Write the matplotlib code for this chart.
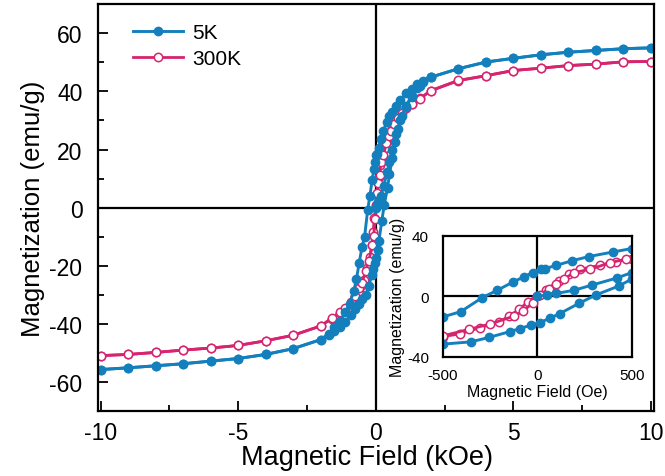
import matplotlib
matplotlib.use("Agg")
import matplotlib.pyplot as plt
import numpy as np

plt.rcParams['font.family'] = ['Liberation Sans', 'DejaVu Sans']
plt.rcParams['axes.unicode_minus'] = False

# 5 K loop, field in kOe, magnetization in emu/g
h5_virgin = [0, 0.05, 0.1, 0.194, 0.291, 0.421, 0.5, 0.6, 0.75, 0.9, 1.1, 1.3, 1.6, 2.0]
m5_virgin = [0, 1.0, 2.0, 4.1, 7.6, 12.2, 15.8, 20.0, 25.5, 30.0, 34.5, 38.0, 41.8, 44.9]

h5_down = [10, 9, 8, 7, 6, 5, 4, 3, 2, 1.7, 1.5, 1.3, 1.1, 0.9, 0.75, 0.6, 0.5,
           0.4, 0.273, 0.186, 0.101, 0.04, 0.017, -0.025, -0.068, -0.128, -0.212,
           -0.291, -0.405, -0.5, -0.6, -0.7, -0.8, -0.95, -1.1, -1.3, -1.5, -1.7,
           -2, -3, -4, -5, -6, -7, -8, -9, -10]
m5_down = [55.0, 54.7, 54.1, 53.5, 52.6, 51.4, 50.1, 47.8, 44.9, 43.6, 42.5, 41.0,
           39.3, 37.0, 35.0, 33.0, 31.7, 29.4, 26.4, 23.7, 20.6, 18.4, 18.0, 15.8,
           13.2, 9.6, 4.1, -0.7, -10.0, -13.5, -19.0, -24.5, -28.8, -33.0, -36.0,
           -39.0, -41.2, -43.3, -45.4, -48.5, -50.5, -51.9, -52.8, -53.7, -54.4,
           -55.1, -55.7]

h5_up = [-10, -9, -8, -7, -6, -5, -4, -3, -2, -1.7, -1.5, -1.3, -1.1, -0.9, -0.75,
         -0.6, -0.5, -0.352, -0.254, -0.145, -0.092, -0.036, 0.013, 0.066, 0.119,
         0.221, 0.31, 0.431, 0.5, 0.6, 0.7, 0.8, 0.95, 1.1, 1.3, 1.5, 1.7, 2, 3, 4,
         5, 6, 7, 8, 9, 10]
m5_up = [-55.7, -55.1, -54.4, -53.7, -52.8, -51.9, -50.5, -48.5, -45.4, -43.8, -42.6,
         -41.0, -39.2, -37.0, -35.0, -33.0, -31.5, -30.0, -27.0, -23.2, -21.2, -19.0,
         -17.3, -14.4, -11.3, -4.5, 1.0, 6.9, 11.5, 17.0, 22.5, 27.0, 31.5, 35.0,
         38.5, 41.2, 43.2, 44.9, 47.8, 50.1, 51.4, 52.6, 53.5, 54.1, 54.7, 55.0]

# 300 K loop
h300_down = [10, 9, 8, 7, 6, 5, 4, 3, 2, 1.6, 1.3, 1.1, 0.9, 0.75, 0.6, 0.5, 0.418,
             0.33, 0.228, 0.168, 0.115, 0.045, -0.004, -0.049, -0.096, -0.149, -0.203,
             -0.303, -0.412, -0.5, -0.6, -0.75, -0.9, -1.1, -1.3, -1.6, -2, -3, -4,
             -5, -6, -7, -8, -9, -10]
m300_down = [50.3, 50.2, 49.4, 48.9, 48.0, 47.2, 45.4, 43.7, 40.2, 37.6, 35.6, 34.2,
             32.2, 30.0, 27.5, 25.0, 23.1, 20.6, 18.0, 14.8, 10.5, 4.2, 0.5, -3.4,
             -8.5, -12.9, -16.9, -20.6, -24.8, -26.5, -28.5, -30.8, -32.8, -34.8,
             -36.4, -38.2, -40.7, -43.9, -45.8, -47.4, -48.3, -49.0, -49.8, -50.5,
             -50.9]

h300_up = [-10, -9, -8, -7, -6, -5, -4, -3, -2, -1.6, -1.3, -1.1, -0.9, -0.75, -0.6,
           -0.5, -0.361, -0.25, -0.122, -0.075, -0.022, 0.013, 0.06, 0.1, 0.141, 0.193,
           0.281, 0.386, 0.467, 0.55, 0.65, 0.8, 0.95, 1.1, 1.3, 1.6, 2, 3, 4, 5, 6,
           7, 8, 9, 10]
m300_up = [-50.9, -50.5, -49.8, -49.0, -48.3, -47.4, -45.8, -43.9, -40.7, -38.0, -36.0,
           -34.5, -32.4, -30.3, -27.8, -26.0, -21.7, -18.2, -12.9, -9.6, -4.0, 1.0, 5.0,
           8.5, 11.4, 15.8, 18.0, 22.4, 24.6, 26.4, 28.7, 30.8, 32.6, 34.5, 35.8, 37.4,
           40.3, 43.8, 45.4, 47.2, 48.0, 48.9, 49.4, 50.2, 50.3]

blue = '#1380bd'
pink = '#d6246e'

style5 = dict(color=blue, lw=2.1, marker='o', ms=6, mfc=blue, mec=blue)
style300 = dict(color=pink, lw=2.0, marker='o', ms=6, mfc='white', mec=pink, mew=1.1)

fig = plt.figure(figsize=(6.65, 4.77), dpi=100)
ax = fig.add_axes([0.147, 0.136, 0.836, 0.853])

# 300K below, 5K on top
ax.plot(h300_down, m300_down, label='300K', **style300)
ax.plot(h300_up, m300_up, **style300)
ax.plot(h5_virgin, m5_virgin, **style5)
ax.plot(h5_down, m5_down, label='5K', **style5)
ax.plot(h5_up, m5_up, **style5)

ax.axhline(0, color='k', lw=1.6, zorder=1)
ax.axvline(0, color='k', lw=1.6, zorder=1)

ax.set_xlim(-10.1, 10.1)
ax.set_ylim(-70, 70)
ax.set_xticks([-10, -5, 0, 5, 10])
ax.set_xticks([-7.5, -2.5, 2.5, 7.5], minor=True)
ax.set_yticks([-60, -40, -20, 0, 20, 40, 60])
ax.set_yticks(np.arange(-50, 60, 20), minor=True)
ax.tick_params(which='both', direction='in', labelsize=16.5, width=1.3)
ax.tick_params(which='major', length=7)
ax.tick_params(which='minor', length=4)
ax.tick_params(axis='x', pad=7)
ax.tick_params(axis='y', pad=11)
for s in ax.spines.values():
    s.set_linewidth(1.6)

ax.set_xlabel('Magnetic Field (kOe)', fontsize=19.5)
ax.set_ylabel('Magnetization (emu/g)', fontsize=18.5)
ax.xaxis.set_label_coords(0.484, -0.082)
ax.yaxis.set_label_coords(-0.095, 0.5)

handles, labels = ax.get_legend_handles_labels()
ax.legend(handles[::-1], labels[::-1], loc='upper left', frameon=False, fontsize=15,
          handlelength=2.4, handletextpad=0.45, labelspacing=0.35,
          bbox_to_anchor=(0.03, 1.0))

# inset: low-field region in Oe
ins = fig.add_axes([0.666, 0.2495, 0.284, 0.2537])
ins.plot(np.array(h300_down) * 1000, m300_down, **style300)
ins.plot(np.array(h300_up) * 1000, m300_up, **style300)
ins.plot(np.array(h5_virgin) * 1000, m5_virgin, **style5)
ins.plot(np.array(h5_down) * 1000, m5_down, **style5)
ins.plot(np.array(h5_up) * 1000, m5_up, **style5)
ins.axhline(0, color='k', lw=1.6, zorder=1)
ins.axvline(0, color='k', lw=1.6, zorder=1)
ins.set_xlim(-500, 500)
ins.set_ylim(-40, 40)
ins.set_xticks([-500, 0, 500])
ins.set_yticks([-40, 0, 40])
ins.tick_params(length=0, labelsize=11)
ins.tick_params(axis='x', pad=8)
ins.tick_params(axis='y', pad=10)
for s in ins.spines.values():
    s.set_linewidth(1.6)
ins.set_xlabel('Magnetic Field (Oe)', fontsize=11.5)
ins.set_ylabel('Magnetization (emu/g)', fontsize=11.5)
ins.xaxis.set_label_coords(0.5, -0.22)
ins.yaxis.set_label_coords(-0.2, 0.5)

fig.savefig('out.png', dpi=100)
